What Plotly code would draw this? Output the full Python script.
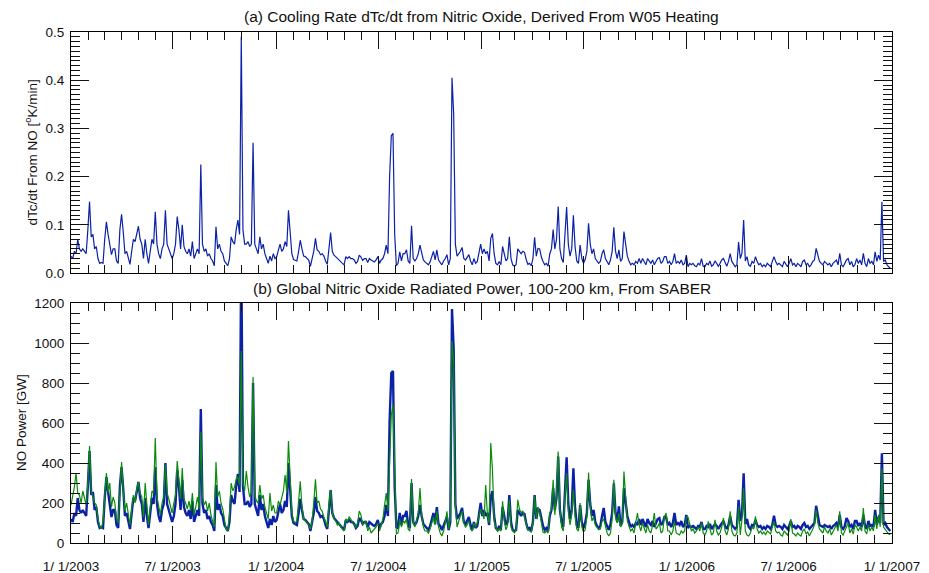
import pandas as pd
import plotly.graph_objects as go

# ---- data: 3-day samples starting 2003-01-01 ----
start_date = "2003-01-01"
step = "3D"

# (a) cooling rate dTc/dt from NO [K/min]
cooling_rate = [
    .035,.03,.045,.04,.07,.05,.045,.05,.045,.04,
    .09,.148,.075,.08,.05,.055,.03,.02,.022,.02,
    .07,.106,.08,.06,.038,.05,.05,.025,.02,.09,
    .122,.085,.04,.045,.028,.018,.045,.07,.065,.08,
    .097,.07,.06,.03,.07,.04,.02,.045,.07,.06,
    .127,.06,.04,.03,.05,.06,.13,.06,.05,.04,
    .03,.04,.06,.117,.09,.05,.1,.055,.045,.04,
    .05,.035,.065,.03,.04,.05,.04,.225,.06,.045,
    .05,.035,.04,.03,.025,.015,.096,.05,.06,.045,
    .04,.025,.02,.015,.03,.075,.065,.06,.09,.11,
    .08,.49,.09,.06,.06,.065,.055,.06,.27,.06,
    .05,.04,.075,.05,.06,.04,.03,.02,.035,.025,
    .04,.03,.034,.045,.06,.045,.05,.065,.055,.13,
    .09,.04,.028,.027,.025,.045,.068,.05,.035,.034,
    .03,.027,.014,.03,.045,.072,.048,.045,.038,.04,
    .035,.025,.018,.05,.084,.045,.037,.034,.03,.027,
    .024,.02,.017,.034,.03,.034,.03,.03,.027,.02,
    .024,.037,.033,.026,.03,.03,.022,.03,.027,.025,
    .023,.027,.034,.02,.027,.03,.04,.058,.04,.2,
    .285,.29,.08,.015,.02,.044,.025,.04,.04,.048,
    .025,.02,.098,.03,.025,.03,.04,.058,.04,.027,
    .023,.02,.017,.023,.035,.045,.027,.048,.027,.023,
    .017,.025,.03,.038,.017,.03,.405,.33,.06,.035,
    .04,.045,.053,.03,.027,.034,.038,.025,.017,.03,
    .02,.024,.045,.06,.04,.05,.04,.045,.025,.072,
    .082,.04,.02,.017,.024,.017,.055,.04,.025,.03,
    .075,.03,.017,.014,.017,.05,.045,.04,.045,.043,
    .028,.018,.02,.015,.03,.074,.035,.051,.05,.033,
    .024,.017,.02,.014,.04,.05,.09,.05,.07,.138,
    .05,.03,.022,.08,.137,.06,.035,.05,.12,.055,
    .025,.02,.058,.03,.02,.028,.045,.103,.06,.04,
    .05,.03,.024,.02,.024,.04,.048,.03,.024,.017,
    .027,.045,.095,.045,.03,.048,.024,.03,.086,.065,
    .035,.025,.017,.02,.017,.024,.02,.03,.02,.03,
    .024,.017,.03,.024,.02,.027,.017,.024,.03,.032,
    .02,.024,.034,.034,.02,.024,.017,.024,.04,.02,
    .024,.02,.027,.017,.02,.037,.013,.02,.017,.02,
    .015,.013,.02,.017,.03,.014,.013,.02,.017,.025,
    .014,.017,.025,.02,.014,.02,.027,.03,.02,.014,
    .024,.04,.024,.017,.013,.017,.064,.03,.041,.11,
    .025,.034,.017,.014,.024,.02,.034,.024,.017,.02,
    .013,.017,.013,.02,.017,.013,.024,.034,.024,.017,
    .02,.017,.013,.024,.017,.013,.02,.03,.017,.02,
    .013,.02,.017,.013,.024,.027,.017,.02,.013,.017,
    .024,.027,.051,.035,.024,.02,.017,.024,.02,.017,
    .02,.013,.02,.024,.027,.017,.041,.017,.013,.02,
    .027,.03,.017,.024,.013,.017,.03,.02,.027,.017,
    .041,.02,.013,.03,.02,.024,.017,.044,.024,.037,
    .027,.148,.024,.027,.017,.013,.01,
]

# (b) NO power [GW], W05-derived (blue)
power_w05 = [
    120,105,150,135,225,165,150,165,150,135,
    285,460,240,255,165,180,105,75,80,75,
    225,330,255,195,130,165,165,90,75,285,
    380,270,135,150,100,70,150,225,210,255,
    305,225,195,105,225,135,75,150,225,195,
    380,195,135,105,165,195,400,195,165,135,
    105,135,195,365,285,165,315,180,150,135,
    165,120,210,105,135,165,135,670,195,150,
    165,120,135,105,90,60,290,165,195,150,
    135,90,75,60,105,240,210,195,285,345,
    255,1480,285,195,195,210,180,195,800,195,
    165,135,240,165,195,135,105,75,120,90,
    135,105,115,150,195,150,165,210,180,400,
    285,135,100,95,90,150,220,165,120,115,
    105,95,60,105,150,230,160,150,130,135,
    120,90,70,165,265,150,125,115,105,95,
    85,75,65,115,105,115,105,105,95,75,
    85,125,115,95,105,105,80,105,95,90,
    85,95,115,75,95,105,135,190,135,610,
    850,860,280,80,75,150,90,135,135,160,
    90,75,300,105,90,105,135,190,135,95,
    85,75,65,85,120,150,95,180,95,85,
    65,90,105,130,65,105,1170,970,195,120,
    135,150,175,105,95,115,130,90,65,105,
    75,85,150,200,135,165,135,150,90,230,
    260,135,75,65,85,65,180,135,90,105,
    240,105,65,60,65,165,150,135,150,145,
    100,70,75,60,105,240,120,170,165,115,
    85,65,75,60,135,165,274,165,225,432,
    165,105,80,255,429,195,120,165,374,180,
    90,75,190,105,75,100,150,316,195,135,
    165,105,85,75,85,135,175,105,85,65,
    95,150,299,150,105,183,85,105,274,210,
    135,105,80,90,80,100,90,120,90,120,
    100,80,120,100,90,110,80,100,120,125,
    90,100,130,130,90,100,80,100,150,90,
    100,90,110,80,90,140,75,85,80,85,
    75,70,85,80,105,70,70,85,80,95,
    70,80,95,85,70,85,100,110,85,70,
    90,135,90,80,70,80,216,110,140,349,
    95,120,80,70,90,85,116,90,80,85,
    70,80,70,85,80,70,90,136,90,80,
    85,80,70,90,80,70,85,110,80,85,
    70,85,80,70,90,100,80,85,70,80,
    90,100,186,125,90,85,80,90,85,80,
    85,70,85,90,100,80,140,80,70,85,
    125,110,80,90,70,110,110,85,100,80,
    140,85,70,110,85,90,80,166,90,130,
    100,449,90,100,80,70,60,
]

# (b) NO power [GW], SABER (green)
power_saber = [
    190,230,280,350,250,240,200,260,220,190,
    300,485,260,230,200,190,120,85,70,110,
    260,350,250,300,180,230,200,120,100,280,
    405,260,160,200,130,90,170,240,200,270,
    305,250,230,130,300,170,90,180,260,250,
    525,230,180,140,200,230,390,250,220,180,
    150,200,240,410,300,220,375,220,200,170,
    210,160,250,140,180,230,170,555,230,190,
    210,160,200,140,110,80,405,230,260,200,
    170,110,70,60,140,300,260,280,320,330,
    290,960,300,260,360,280,230,250,830,240,
    210,200,290,220,240,180,150,120,250,160,
    190,150,150,210,190,220,260,340,250,510,
    280,150,110,100,110,200,308,180,120,110,
    100,90,70,110,200,319,200,210,170,160,
    130,100,80,190,266,150,120,110,90,100,
    80,70,60,120,110,130,120,100,90,80,
    100,160,140,90,100,110,60,80,50,60,
    70,80,100,60,90,120,190,250,160,370,
    640,690,400,45,50,120,80,110,100,120,
    70,60,320,100,80,110,150,275,140,80,
    60,60,50,70,100,130,90,160,80,50,
    35,60,100,158,70,120,1010,900,180,80,
    110,140,160,100,80,90,110,70,60,100,
    80,100,140,170,150,120,290,140,100,500,
    366,110,80,60,70,60,208,110,66,90,
    216,80,60,50,66,216,170,150,160,130,
    90,66,60,55,100,233,120,180,150,90,
    55,50,60,50,150,170,316,140,250,457,
    170,80,60,240,349,158,90,140,266,133,
    70,60,200,80,55,66,130,352,183,110,
    130,90,80,66,70,110,120,80,50,35,
    50,120,316,130,100,150,80,100,357,233,
    110,83,60,70,50,100,150,90,60,100,
    70,50,90,60,50,90,150,70,80,100,
    50,60,130,150,60,60,40,60,110,50,
    45,40,60,50,60,130,130,90,60,70,
    50,60,80,60,100,50,40,60,108,70,
    40,50,116,60,40,50,80,125,60,40,
    70,158,60,40,35,50,183,40,120,274,
    60,40,35,50,80,70,133,70,50,60,
    45,55,40,60,50,45,80,108,60,50,
    55,40,35,60,50,40,60,120,50,45,
    35,50,40,35,60,70,45,55,35,50,
    70,90,166,100,70,60,50,80,60,50,
    70,40,55,75,90,60,158,50,40,60,
    80,100,50,70,45,90,80,60,80,60,
    175,60,45,90,60,80,60,141,70,141,
    80,374,80,70,60,45,42,
]

title_a = "(a) Cooling Rate dTc/dt from Nitric Oxide, Derived From W05 Heating"
title_b = "(b) Global Nitric Oxide Radiated Power, 100-200 km, From SABER"
ytitle_a = "dTc/dt From NO [<sup>o</sup>K/min]"
ytitle_b = "NO Power [GW]"

dates = pd.date_range(start_date, periods=len(cooling_rate), freq=step)

BLUE = "#0b22a6"
GREEN = "#0a8c0a"
FONT = "Liberation Sans, Arial, Helvetica, sans-serif"

fig = go.Figure()
fig.add_trace(go.Scatter(x=dates, y=cooling_rate, mode="lines",
                         line=dict(color=BLUE, width=1.2), xaxis="x", yaxis="y"))
fig.add_trace(go.Scatter(x=dates, y=power_w05, mode="lines",
                         line=dict(color=BLUE, width=2.4), xaxis="x2", yaxis="y2"))
fig.add_trace(go.Scatter(x=dates, y=power_saber, mode="lines",
                         line=dict(color=GREEN, width=1.2), xaxis="x2", yaxis="y2"))

tick_font = dict(family=FONT, size=13.5, color="#111")

xcommon = dict(
    range=["2003-01-01", "2007-01-01"], tick0="2003-01-01", dtick="M6",
    ticks="inside", ticklen=17, tickwidth=1, tickcolor="#111",
    minor=dict(dtick="M1", ticks="inside", ticklen=8, tickwidth=1, tickcolor="#111"),
    showline=True, linecolor="#000", linewidth=1, mirror="allticks",
    showgrid=False, zeroline=False, automargin=False,
    tickfont=tick_font,
)
ycommon = dict(
    ticks="inside", ticklen=18, tickwidth=1, tickcolor="#111",
    showline=True, linecolor="#000", linewidth=1, mirror="allticks",
    showgrid=False, zeroline=False, automargin=False,
    tickfont=tick_font, ticklabelstandoff=3,
)

d_top = (543 - 273) / 511
d_bot = (543 - 303) / 511

fig.update_layout(
    width=929, height=573,
    margin=dict(l=71, r=37, t=32, b=30),
    paper_bgcolor="white", plot_bgcolor="white",
    showlegend=False,
    xaxis=dict(xcommon, anchor="y", showticklabels=False),
    yaxis=dict(ycommon, domain=[d_top, 1], range=[0, 0.5], dtick=0.1, tickformat=".1f",
               minor=dict(dtick=0.01, ticks="inside", ticklen=9, tickwidth=1, tickcolor="#111")),
    xaxis2=dict(xcommon, anchor="y2", tickformat="%-m/ %-d/%Y", ticklabelstandoff=11),
    yaxis2=dict(ycommon, domain=[0, d_bot], range=[0, 1200], dtick=200,
                minor=dict(dtick=50, ticks="inside", ticklen=9, tickwidth=1, tickcolor="#111")),
)

title_font = dict(family=FONT, size=15.5, color="#111")
ytitle_font = dict(family=FONT, size=13.5, color="#111")
fig.add_annotation(text=title_a, x=0.5, y=(543 - 17) / 511, xref="paper", yref="paper",
                   showarrow=False, font=title_font, xanchor="center", yanchor="middle")
fig.add_annotation(text=title_b, x=0.5, y=(543 - 288) / 511, xref="paper", yref="paper",
                   showarrow=False, font=title_font, xanchor="center", yanchor="middle")
fig.add_annotation(text=ytitle_a, x=(31 - 71) / 821, y=(d_top + 1) / 2, xref="paper", yref="paper",
                   showarrow=False, font=ytitle_font, textangle=-90, xanchor="center", yanchor="middle")
fig.add_annotation(text=ytitle_b, x=(21 - 71) / 821, y=d_bot / 2, xref="paper", yref="paper",
                   showarrow=False, font=ytitle_font, textangle=-90, xanchor="center", yanchor="middle")

fig.write_html("out.html")
